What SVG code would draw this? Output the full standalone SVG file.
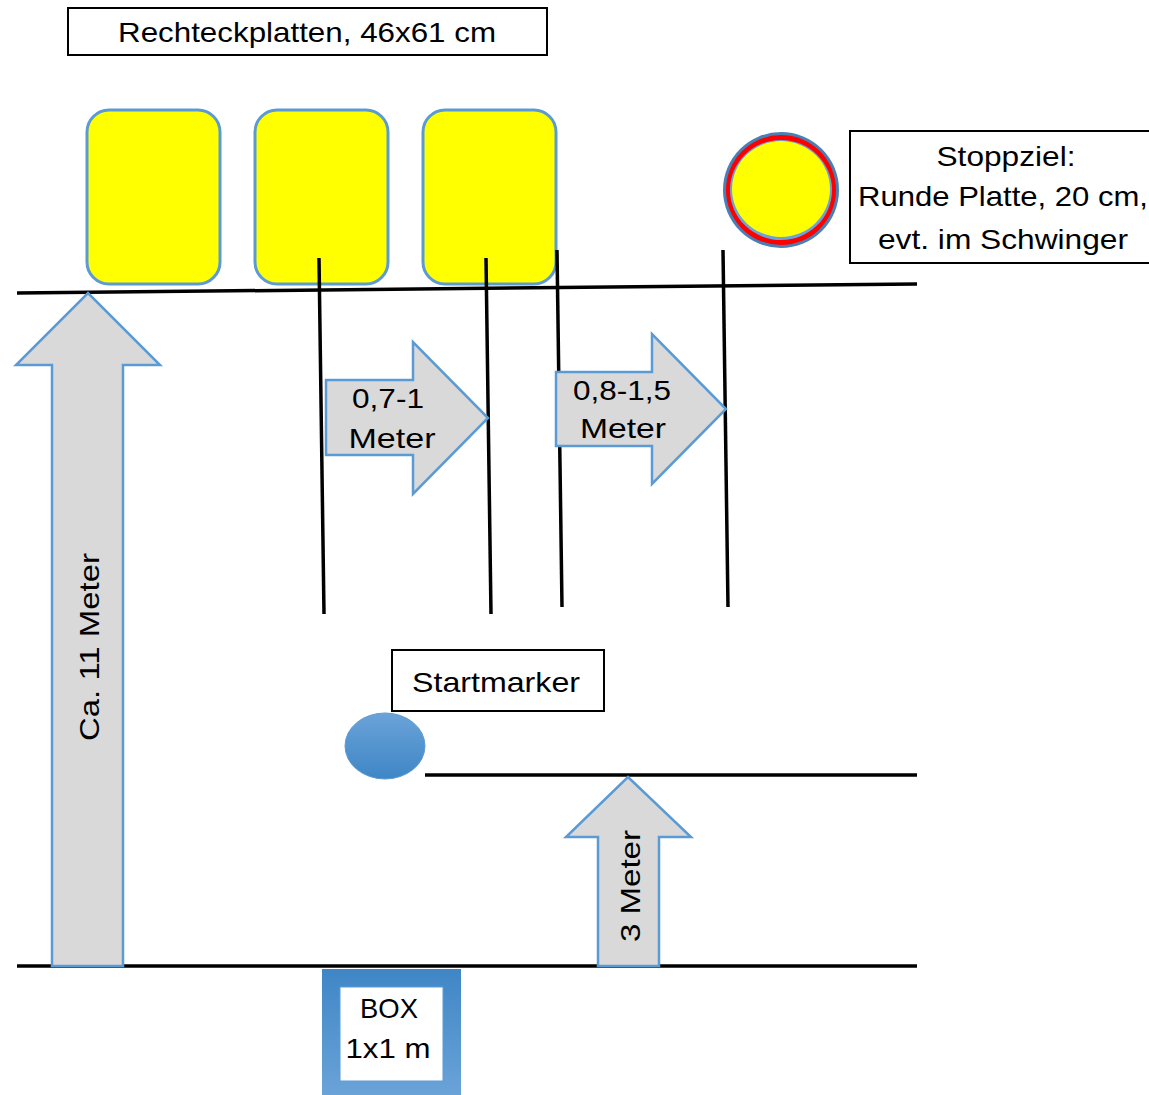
<svg xmlns="http://www.w3.org/2000/svg" width="1149" height="1095" viewBox="0 0 1149 1095">
<defs>
<style>
.t{font-family:"Liberation Sans","DejaVu Sans",sans-serif;font-size:28px;fill:#000;text-anchor:middle}
.box{fill:#fff;stroke:#000;stroke-width:2}
.plate{fill:#ffff00;stroke:#5b9bd5;stroke-width:3}
.arr{fill:#d9d9d9;stroke:#5b9bd5;stroke-width:2.5;stroke-linejoin:miter}
.ln{stroke:#000;stroke-width:3.5;fill:none}
</style>
<linearGradient id="boxg" x1="0" y1="0" x2="0" y2="1">
<stop offset="0" stop-color="#3f86c6"/>
<stop offset="1" stop-color="#6aa3d8"/>
</linearGradient>
<linearGradient id="startg" x1="0" y1="0" x2="0" y2="1">
<stop offset="0" stop-color="#6aa3d8"/>
<stop offset="1" stop-color="#3f86c6"/>
</linearGradient>
</defs>
<rect width="1149" height="1095" fill="#fff"/>

<g id="title">
<rect class="box" x="68" y="8" width="479" height="47"/>
<text class="t" x="307" y="42" textLength="378" lengthAdjust="spacingAndGlyphs">Rechteckplatten, 46x61 cm</text>
</g>

<g id="plate1"><rect class="plate" x="87" y="110" width="133" height="174" rx="22"/></g>
<g id="plate2"><rect class="plate" x="255" y="110" width="133" height="174" rx="22"/></g>
<g id="plate3"><rect class="plate" x="423" y="110" width="133" height="174" rx="22"/></g>

<g id="stoppziel">
<ellipse cx="781" cy="190" rx="58" ry="58" fill="#4a7fb5"/>
<ellipse cx="781" cy="190" rx="55" ry="55" fill="#ff0000"/>
<ellipse cx="781" cy="190" rx="51" ry="50" fill="#6aa3d8"/>
<ellipse cx="781" cy="189" rx="49" ry="48" fill="#ffff00"/>
</g>

<g id="stoppziel-label">
<rect class="box" x="850" y="131" width="302" height="132"/>
<text class="t" x="1006" y="166" textLength="139" lengthAdjust="spacingAndGlyphs">Stoppziel:</text>
<text class="t" x="1003" y="206" textLength="290" lengthAdjust="spacingAndGlyphs">Runde Platte, 20 cm,</text>
<text class="t" x="1003" y="249" textLength="250" lengthAdjust="spacingAndGlyphs">evt. im Schwinger</text>
</g>

<g id="connectors">
<line class="ln" x1="17" y1="293" x2="917" y2="284"/>
<line class="ln" x1="319" y1="258" x2="324" y2="614"/>
<line class="ln" x1="486" y1="258" x2="491" y2="614"/>
<line class="ln" x1="557" y1="250" x2="562" y2="607"/>
<line class="ln" x1="723" y1="250" x2="728" y2="607"/>
<line class="ln" x1="425" y1="775" x2="917" y2="775"/>
<line class="ln" x1="17" y1="966" x2="917" y2="966" stroke-width="4"/>
</g>

<g id="arrow-11m">
<polygon class="arr" points="52,966 52,365 16,365 88,293 160,365 123,365 123,966"/>
<text class="t" transform="translate(99,647) rotate(-90)" textLength="188" lengthAdjust="spacingAndGlyphs">Ca. 11  Meter</text>
</g>

<g id="arrow-07">
<polygon class="arr" points="326,380 413,380 413,342 488,418 413,494 413,455 326,455"/>
<text class="t" x="388" y="408" textLength="72" lengthAdjust="spacingAndGlyphs">0,7-1</text>
<text class="t" x="392" y="448" textLength="87" lengthAdjust="spacingAndGlyphs">Meter</text>
</g>

<g id="arrow-08">
<polygon class="arr" points="556,372 652,372 652,334 726,409 652,484 652,446 556,446"/>
<text class="t" x="622" y="400" textLength="98" lengthAdjust="spacingAndGlyphs">0,8-1,5</text>
<text class="t" x="623" y="438" textLength="86" lengthAdjust="spacingAndGlyphs">Meter</text>
</g>

<g id="startmarker-label">
<rect class="box" x="392" y="650" width="212" height="61"/>
<text class="t" x="496" y="692" textLength="168" lengthAdjust="spacingAndGlyphs">Startmarker</text>
</g>

<g id="startmarker">
<ellipse cx="385" cy="746" rx="40" ry="33" fill="url(#startg)" stroke="#5b9bd5" stroke-width="1"/>
</g>

<g id="arrow-3m">
<polygon class="arr" points="598,966 598,837 566,837 628,777 691,837 659,837 659,966"/>
<text class="t" transform="translate(640,886) rotate(-90)" textLength="112" lengthAdjust="spacingAndGlyphs">3 Meter</text>
</g>

<g id="box">
<rect x="322" y="969" width="139" height="126" fill="url(#boxg)"/>
<rect x="340" y="987" width="103" height="94" fill="#fff" stroke="#5b9bd5" stroke-width="1"/>
<text class="t" x="389" y="1018" textLength="58" lengthAdjust="spacingAndGlyphs">BOX</text>
<text class="t" x="388" y="1058" textLength="85" lengthAdjust="spacingAndGlyphs">1x1 m</text>
</g>
</svg>
